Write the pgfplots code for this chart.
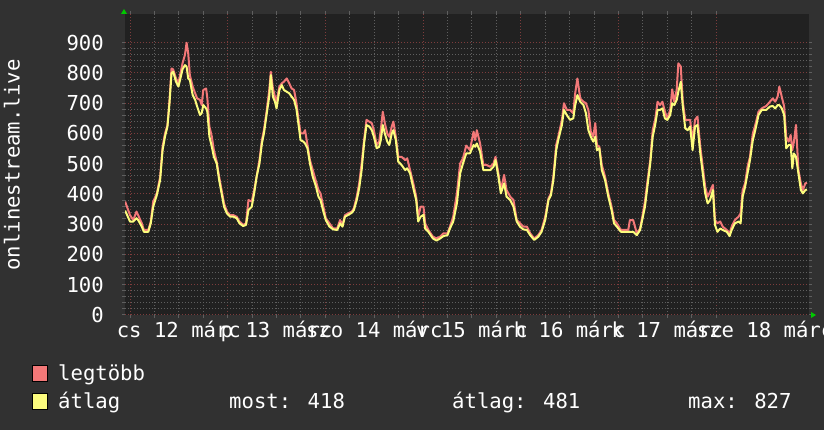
\documentclass[border=0pt]{standalone}
\usepackage{fontspec}
\setmainfont{DejaVu Sans Mono}
\usepackage{pgfplots}
\pgfplotsset{compat=1.18}
\definecolor{bgc}{RGB}{49,49,49}
\definecolor{canvas}{RGB}{33,33,33}
\definecolor{mingrid}{RGB}{95,95,95}
\definecolor{majgrid}{RGB}{125,60,60}
\definecolor{maxc}{RGB}{242,120,120}
\definecolor{avgc}{RGB}{252,252,125}
\definecolor{arrowg}{RGB}{0,200,0}
\begin{document}
\begin{tikzpicture}[x=1pt,y=1pt,font=\fontsize{20.6}{24}\selectfont]
\fill[bgc] (0,0) rectangle (824,430);
\useasboundingbox (0,0) rectangle (824,430);
\begin{axis}[
  at={(125pt,115pt)}, anchor=south west, scale only axis,
  width=684pt, height=301pt,
  xmin=-1.23, xmax=166.8, ymin=0, ymax=995,
  axis background/.style={fill=canvas},
  axis line style={draw=none},
  xtick={0,24,...,144}, xticklabels={}, minor x tick num=3,
  ytick={0,100,...,900}, minor y tick num=4,
  grid=both,
  major grid style={majgrid, line width=1pt, dash pattern=on 1pt off 2pt},
  minor grid style={mingrid, line width=1pt, dash pattern=on 1pt off 2pt},
  tick align=outside, major tick length=3pt, minor tick length=3pt,
  tick style={mingrid, line width=1pt},
  /pgf/number format/assume math mode=true,
  yticklabel style={anchor=east, inner sep=0pt, xshift=-18pt, text=white},
  xticklabel style={anchor=base, inner sep=0pt, yshift=-23pt, text=white},
  extra x ticks={12,36,60,84,108,132,156},
  extra x tick labels={cs 12 márc, p 13 márc, szo 14 márc, v 15 márc, h 16 márc, k 17 márc, sze 18 márc},
  extra x tick style={grid=none, major tick length=0pt},
  clip=true,
]
\addplot[maxc, line width=2pt, line join=round] table {
x y
-1.2 375
0 330
0.8 314
1.6 342
2 330
2.9 303
3.4 281
4.5 281
5.1 309
5.7 375
6.6 402
7.4 457
8 556
8.6 600
9.2 628
9.7 711
10.2 815
10.6 812
11.3 782
11.9 766
12.3 793
12.9 832
13.5 860
13.9 900
14.3 865
14.7 793
15.4 755
16 733
16.5 716
17.2 711
17.6 694
18 744
18.7 749
19 716
19.5 623
20.1 590
20.6 545
21.3 507
21.9 457
22.5 413
23.1 369
23.8 342
24.6 330
25.4 330
26.2 325
26.9 309
27.8 298
28.5 303
29.1 380
29.9 375
30.5 413
31.1 457
31.8 512
32.4 578
32.9 611
33.6 678
34.2 744
34.6 804
35.1 749
35.6 722
36 705
36.7 755
37.3 766
37.8 771
38.5 782
39.1 766
39.7 749
40.3 744
40.9 700
41.3 656
41.9 600
42.6 600
43 611
43.6 562
44.2 512
44.9 479
45.7 441
46.3 413
46.8 402
47.5 358
48.1 320
49 303
49.9 286
50.9 286
51.6 314
52.2 298
52.8 330
53.6 336
54.5 342
55 353
55.7 391
56.3 435
56.9 501
57.5 578
58.1 645
58.8 639
59.4 634
59.9 611
60.6 562
61.2 573
61.6 611
62.1 672
62.6 634
63.2 600
63.7 589
64.3 623
64.7 639
65.3 589
65.9 523
66.7 523
67.6 512
68.1 518
68.8 479
69.6 435
70.3 391
70.8 325
71.4 358
72.1 358
72.5 303
73.3 281
74.4 259
75.3 253
76.2 259
77 270
78 270
78.6 292
79.4 325
80.3 402
81.1 501
81.8 518
82.6 560
83.5 545
84.4 606
84.8 578
85.2 611
86 567
86.8 496
87.6 496
88.5 490
89.3 501
89.8 523
90.5 468
91.1 413
91.9 463
92.5 413
93.4 391
94.2 380
95 314
95.8 303
96.6 292
97.5 292
98.3 270
99.3 253
100.3 264
101.1 281
102 325
102.8 385
103.4 402
104 457
104.7 562
105.2 589
106.1 645
106.6 700
107.3 678
108.1 678
108.9 667
109.3 727
109.9 782
110.6 716
111.4 705
112 700
112.6 678
113.2 606
113.8 589
114.3 634
114.7 562
115.3 556
115.9 496
116.7 457
117.5 402
118.3 358
118.9 314
119.6 303
120.6 281
121.6 281
122.4 281
122.8 314
123.6 314
124.5 270
125.3 286
126 336
126.5 375
127.1 441
127.8 512
128.4 611
129 645
129.6 705
130.2 694
130.8 705
131.4 672
132 650
132.7 678
133.2 746
133.7 705
134.3 744
134.7 832
135.3 821
135.8 705
136.4 645
137 645
137.6 645
138.2 573
138.8 645
139.4 656
140.1 556
140.7 490
141.3 424
141.9 391
142.5 408
143.2 430
143.7 314
144.3 303
145 309
145.6 292
146.6 281
147.3 270
147.8 292
148.6 314
149.5 325
150 336
150.5 413
151.1 435
151.7 490
152.3 523
153 600
153.6 628
154.4 672
155.2 683
156.3 691
157.2 705
157.9 716
158.5 705
159.1 722
159.5 755
160.1 722
160.7 689
161.2 589
161.8 573
162.3 595
162.7 545
163.1 573
163.6 628
164.2 479
164.8 435
165.3 413
165.9 435
166.3 437
};
\addplot[avgc, line width=2pt, line join=round] table {
x y
-1.2 345
0 309
0.8 309
1.6 320
2 314
2.9 292
3.4 275
4.5 275
5.1 303
5.7 358
6.6 397
7.4 446
8 545
8.6 590
9.2 623
9.7 700
10.2 799
10.6 804
11.3 771
11.9 755
12.3 777
12.9 812
13.5 826
13.9 821
14.3 782
14.7 777
15.4 727
16 711
16.5 689
17.2 661
17.6 667
18 694
18.7 683
19 672
19.5 590
20.1 556
20.6 523
21.3 501
21.9 446
22.5 402
23.1 358
23.8 336
24.6 325
25.4 325
26.2 320
26.9 303
27.8 294
28.5 298
29.1 347
29.9 358
30.5 402
31.1 457
31.8 501
32.4 567
32.9 600
33.6 667
34.2 722
34.6 793
35.1 722
35.6 705
36 683
36.7 744
37.3 760
37.8 744
38.5 738
39.1 733
39.7 722
40.3 711
40.9 680
41.3 639
41.9 578
42.6 573
43 567
43.6 551
44.2 501
44.9 457
45.7 424
46.3 391
46.8 380
47.5 342
48.1 314
49 292
49.9 283
50.9 281
51.6 303
52.2 292
52.8 325
53.6 331
54.5 338
55 347
55.7 380
56.3 419
56.9 479
57.5 567
58.1 628
58.8 623
59.4 611
59.9 590
60.6 551
61.2 556
61.6 578
62.1 628
62.6 600
63.2 573
63.7 562
64.3 600
64.7 611
65.3 578
65.9 507
66.7 496
67.6 479
68.1 485
68.8 468
69.6 419
70.3 380
70.8 309
71.4 325
72.1 331
72.5 286
73.3 275
74.4 253
75.3 246
76.2 253
77 261
78 264
78.6 286
79.4 309
80.3 369
81.1 468
81.8 501
82.6 534
83.5 534
84.4 562
84.8 556
85.2 567
86 540
86.8 479
87.6 479
88.5 479
89.3 490
89.8 512
90.5 457
91.1 402
91.9 435
92.5 391
93.4 380
94.2 358
95 309
95.8 292
96.6 283
97.5 281
98.3 264
99.3 248
100.3 259
101.1 275
102 314
102.8 380
103.4 396
104 446
104.7 545
105.2 578
106.1 628
106.6 678
107.3 661
108.1 645
108.9 650
109.3 689
109.9 727
110.6 705
111.4 694
112 667
112.6 611
113.2 589
113.8 573
114.3 589
114.7 545
115.3 551
115.9 479
116.7 446
117.5 391
118.3 347
118.9 303
119.6 292
120.6 275
121.6 275
122.4 275
123.6 275
124.5 264
125.3 281
126 325
126.5 358
127.1 424
127.8 501
128.4 589
129 628
129.6 678
130.2 678
130.8 683
131.4 650
132 645
132.7 661
133.2 700
133.7 694
134.3 711
134.7 738
135.3 771
135.8 689
136.4 617
137 611
137.6 623
138.2 545
138.8 623
139.4 628
140.1 534
140.7 468
141.3 402
141.9 369
142.5 380
143.2 413
143.7 298
144.3 275
145 286
145.6 281
146.6 275
147.3 261
147.8 281
148.6 303
149.5 309
150 303
150.5 391
151.1 424
151.7 468
152.3 512
153 578
153.6 611
154.4 661
155.2 678
156.3 678
157.2 689
157.9 691
158.5 683
159.1 694
159.5 694
160.1 683
160.7 661
161.2 551
161.8 562
162.3 562
162.7 485
163.1 534
163.6 523
164.2 468
164.8 413
165.3 402
165.9 413
166.3 415
};
\end{axis}
% axis arrows
\fill[arrowg] (121,416) -- (127,416) -- (124,421) -- cycle;
\fill[arrowg] (811,118) -- (811,112) -- (816,115) -- cycle;
% y label
\node[rotate=90, anchor=base, inner sep=0pt, text=white] at (19.5,265) {onlinestream.live};
% legend
\filldraw[fill=maxc, draw=black, line width=0.8pt] (32,48.5) rectangle (47.5,64.5);
\filldraw[fill=avgc, draw=black, line width=0.8pt] (32,21) rectangle (47.5,37);
\node[anchor=base west, inner sep=0pt, text=white] at (58,49.3) {legtöbb};
\node[anchor=base west, inner sep=0pt, text=white] at (58,21.3) {átlag};
\node[anchor=base west, inner sep=0pt, text=white] at (229,21.3) {most: 418};
\node[anchor=base west, inner sep=0pt, text=white] at (452,21.3) {átlag: 481};
\node[anchor=base west, inner sep=0pt, text=white] at (688,21.3) {max: 827};
\end{tikzpicture}
\end{document}
